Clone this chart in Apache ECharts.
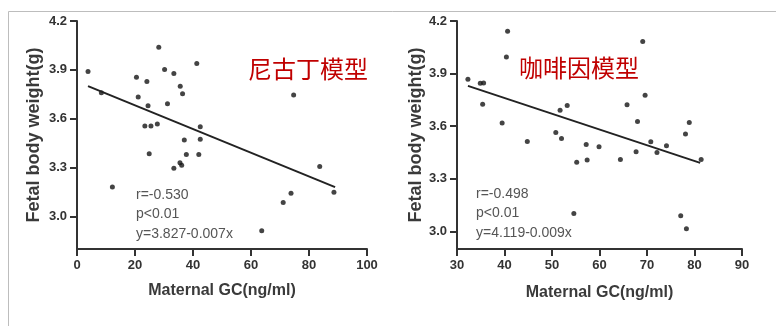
<!DOCTYPE html>
<html>
<head>
<meta charset="utf-8">
<script src="https://cdn.jsdelivr.net/npm/echarts@6/dist/echarts.min.js"></script>
<style>
html,body{margin:0;padding:0;background:#fff;}
#c{width:776px;height:326px;}
</style>
</head>
<body>
<div id="c"></div>
<script>
// Left panel: nicotine model
const nicotineGC = [3.8, 8.4, 12.2, 20.5, 21.1, 24.1, 24.5, 23.4, 25.5, 24.9, 27.7, 28.2, 30.2, 31.2, 33.4, 33.4, 35.6, 36.4, 35.5, 36.1, 37.0, 37.7, 41.3, 42.0, 42.5, 42.5, 63.7, 71.1, 73.8, 74.7, 83.7, 88.6];
const nicotineWeight = [3.89, 3.76, 3.18, 3.855, 3.733, 3.829, 3.68, 3.555, 3.555, 3.385, 3.567, 4.039, 3.902, 3.692, 3.878, 3.296, 3.80, 3.753, 3.33, 3.315, 3.47, 3.38, 3.939, 3.38, 3.551, 3.474, 2.912, 3.086, 3.143, 3.745, 3.306, 3.149];
const nicotineFitX = [3.8, 89.0];
const nicotineFitY = [3.80, 3.18];
const nicotineStats = ['r=-0.530', 'p<0.01', 'y=3.827-0.007x'];
const nicotineTitle = '尼古丁模型';

// Right panel: caffeine model
const caffeineGC = [32.3, 34.9, 35.6, 35.4, 39.5, 40.4, 40.65, 44.8, 50.8, 51.7, 52.0, 53.2, 54.6, 55.2, 57.2, 57.4, 59.9, 64.4, 65.8, 67.7, 68.0, 69.1, 69.6, 70.8, 72.1, 74.1, 77.1, 78.1, 78.9, 78.3, 81.4];
const caffeineWeight = [3.868, 3.845, 3.847, 3.726, 3.619, 3.995, 4.141, 3.513, 3.564, 3.691, 3.53, 3.718, 3.103, 3.395, 3.496, 3.407, 3.483, 3.411, 3.722, 3.454, 3.627, 4.083, 3.777, 3.511, 3.45, 3.488, 3.09, 3.555, 3.621, 3.016, 3.411];
const caffeineFitX = [32.3, 81.2];
const caffeineFitY = [3.83, 3.391];
const caffeineStats = ['r=-0.498', 'p<0.01', 'y=4.119-0.009x'];
const caffeineTitle = '咖啡因模型';

// Axis ticks
const yTicks = [3.0, 3.3, 3.6, 3.9, 4.2];
const xTitle = 'Maternal GC(ng/ml)';
const yTitle = 'Fetal body weight(g)';

const FONT = 'Liberation Sans, Arial, sans-serif';
const axisColor = '#333';

function pairs(xs, ys){ return xs.map((x,i)=>[x, ys[i]]); }

function xAxis(idx, min, max, interval, gap){
  return {
    type:'value', gridIndex: idx, min, max, interval,
    name: xTitle, nameLocation:'middle', nameGap: gap,
    nameTextStyle:{fontFamily:FONT, fontSize:16, fontWeight:'bold', color:'#3a3a3a'},
    axisLine:{show:true, lineStyle:{color:axisColor, width:2}},
    axisTick:{show:true, inside:false, length:7, lineStyle:{color:axisColor, width:2}},
    axisLabel:{fontFamily:FONT, fontSize:13, fontWeight:'bold', color:'#333', margin:10},
    splitLine:{show:false}
  };
}
function yAxis(idx, min, max, gap){
  return {
    type:'value', gridIndex: idx, min, max,
    name: yTitle, nameLocation:'middle', nameGap: gap, nameRotate: 90,
    nameTextStyle:{fontFamily:FONT, fontSize:18, fontWeight:'bold', color:'#3a3a3a'},
    axisLine:{show:true, lineStyle:{color:axisColor, width:2}},
    axisTick:{show:true, inside:false, length:7, customValues: yTicks, lineStyle:{color:axisColor, width:2}},
    axisLabel:{fontFamily:FONT, fontSize:13, fontWeight:'bold', color:'#333', margin:10, customValues: yTicks,
      formatter: v => v.toFixed(1)},
    splitLine:{show:false}
  };
}

const chart = echarts.init(document.getElementById('c'), null, {renderer:'canvas'});
chart.setOption({
  backgroundColor:'#fff',
  animation:false,
  title:[
    {text: nicotineTitle, left:243, top:51, textStyle:{fontFamily:'Noto Sans CJK SC', fontSize:24, fontWeight:'normal', color:'#c00000', lineHeight:26}},
    {text: caffeineTitle, left:514, top:50, textStyle:{fontFamily:'Noto Sans CJK SC', fontSize:24, fontWeight:'normal', color:'#c00000', lineHeight:26}},
    {text: nicotineStats.join('\n'), left:131, top:180, textStyle:{fontFamily:FONT, fontSize:14, fontWeight:'normal', color:'#555', lineHeight:19.5}},
    {text: caffeineStats.join('\n'), left:471, top:179, textStyle:{fontFamily:FONT, fontSize:14, fontWeight:'normal', color:'#555', lineHeight:19.5}}
  ],
  graphic:[
    {type:'line', shape:{x1:8.5, y1:11.5, x2:776, y2:11.5}, style:{stroke:'#bdbdbd', lineWidth:1}, silent:true},
    {type:'line', shape:{x1:8.5, y1:11.5, x2:8.5, y2:326}, style:{stroke:'#bdbdbd', lineWidth:1}, silent:true}
  ],
  grid:[
    {left:77, top:21, width:290, height:228},
    {left:457, top:21, width:285, height:228}
  ],
  xAxis:[ xAxis(0, 0, 100, 20, 34), xAxis(1, 30, 90, 10, 36) ],
  yAxis:[ yAxis(0, 2.8, 4.2, 34), yAxis(1, 2.9, 4.2, 30) ],
  series:[
    {type:'scatter', xAxisIndex:0, yAxisIndex:0, data: pairs(nicotineGC, nicotineWeight), symbolSize:5, itemStyle:{color:'#151515'}},
    {type:'line', xAxisIndex:0, yAxisIndex:0, data: pairs(nicotineFitX, nicotineFitY), showSymbol:false, symbol:'none', lineStyle:{color:'#222', width:2}},
    {type:'scatter', xAxisIndex:1, yAxisIndex:1, data: pairs(caffeineGC, caffeineWeight), symbolSize:5, itemStyle:{color:'#151515'}},
    {type:'line', xAxisIndex:1, yAxisIndex:1, data: pairs(caffeineFitX, caffeineFitY), showSymbol:false, symbol:'none', lineStyle:{color:'#222', width:2}}
  ]
});
</script>
</body>
</html>
